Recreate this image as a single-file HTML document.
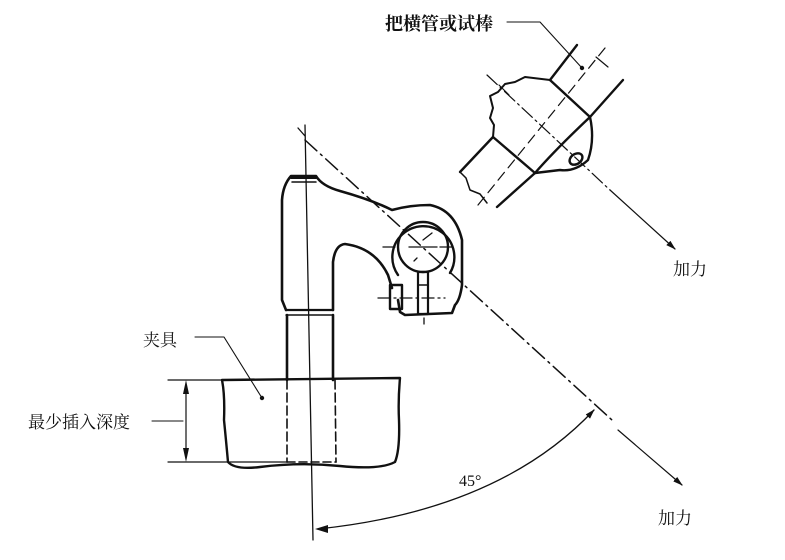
<!DOCTYPE html>
<html><head><meta charset="utf-8"><style>
html,body{margin:0;padding:0;background:#fff}
svg{display:block}
text{font-family:"Liberation Serif","Noto Serif CJK SC","Noto Sans CJK SC",serif;fill:#111}
</style></head><body>
<svg width="785" height="560" viewBox="0 0 785 560" xmlns="http://www.w3.org/2000/svg">
<defs>
<marker id="ar" markerWidth="10" markerHeight="8" refX="9" refY="4" orient="auto" markerUnits="userSpaceOnUse"><path d="M0,1 L10,4 L0,7 Z" fill="#111"/></marker>
</defs>
<g fill="none" stroke="#111" stroke-linecap="round" stroke-linejoin="round">
<!-- vertical axis -->
<line x1="305" y1="125" x2="313" y2="540" stroke-width="1.3"/>
<line x1="298" y1="128" x2="305" y2="136" stroke-width="1.3"/>
<!-- column upper head -->
<path d="M286,310 L282,300 L282,200 Q283,185 291,176 L316,176 Q322,186 340,191 Q372,200 392,210 Q410,205 430,205 Q455,210 462,240 L462,285 Q460,300 455,305 L452,313 L405,315 L400,312 L398,300" stroke-width="2.6"/>
<line x1="291" y1="178" x2="316" y2="178" stroke-width="2"/>
<line x1="292" y1="182" x2="316" y2="182" stroke-width="1.5"/>
<path d="M333,310 L333,262 Q335,245 345,244 Q375,248 388,275 L392,288" stroke-width="2.6"/>
<line x1="286" y1="310" x2="333" y2="310" stroke-width="2.2"/>
<line x1="286" y1="315" x2="333" y2="315" stroke-width="1.5"/>
<line x1="287" y1="315" x2="287" y2="380" stroke-width="2.6"/>
<line x1="333" y1="315" x2="333" y2="380" stroke-width="2.6"/>
<!-- clamp rings -->
<path d="M398,275 A31,31 0 1 1 450,273" stroke-width="2.4"/>
<circle cx="423" cy="247" r="25" stroke-width="2.4"/>
<line x1="383" y1="247" x2="395" y2="247" stroke-width="1.3"/>
<line x1="409" y1="247" x2="437" y2="247" stroke-width="1.3"/>
<line x1="440" y1="247" x2="452" y2="247" stroke-width="1.3"/>
<line x1="423" y1="240" x2="432" y2="233" stroke-width="1.3"/>
<line x1="417" y1="258" x2="414" y2="261" stroke-width="1.3"/>
<rect x="418" y="272" width="10" height="42" stroke-width="2.2"/>
<line x1="418" y1="285" x2="428" y2="285" stroke-width="1.5"/>
<rect x="390" y="285" width="12" height="24" stroke-width="2.4"/>
<line x1="378" y1="298" x2="445" y2="298" stroke-width="1.3" stroke-dasharray="12,4,2,4"/>
<line x1="424" y1="318" x2="424" y2="324" stroke-width="1.3"/>
<!-- fixture -->
<path d="M222,380 L400,378 Q398,400 399,420 Q400,450 395,462 Q380,470 340,466 Q300,462 260,467 Q235,470 228,462 Q226,440 224,420 Q225,395 222,380" stroke-width="2.4"/>
<line x1="287" y1="380" x2="287" y2="462" stroke-width="1.6" stroke-dasharray="9,4"/>
<line x1="335" y1="380" x2="336" y2="462" stroke-width="1.6" stroke-dasharray="9,4"/>
<line x1="287" y1="462" x2="336" y2="462" stroke-width="1.6" stroke-dasharray="8,4"/>
<!-- dimension -->
<line x1="168" y1="380" x2="222" y2="380" stroke-width="1.2"/>
<line x1="168" y1="462" x2="287" y2="462" stroke-width="1.2"/>
<line x1="186" y1="392" x2="186" y2="450" stroke-width="1.2"/>
<path d="M186,380 L183,394 L189,394 Z M186,462 L183,448 L189,448 Z" fill="#111" stroke="none"/>
<!-- leaders -->
<polyline points="195,337 224,337 262,398" stroke-width="1.1"/>
<circle cx="262" cy="398" r="2.2" fill="#111" stroke="none"/>
<line x1="152" y1="421" x2="183" y2="421" stroke-width="1.1"/>
<polyline points="507,22 540,22 582,68" stroke-width="1.1"/>
<circle cx="582" cy="68" r="2.2" fill="#111" stroke="none"/>
<!-- 45 deg diagonal -->
<line x1="305" y1="140" x2="612" y2="420" stroke-width="1.5" stroke-dasharray="16,5,2,5"/>
<line x1="618" y1="430" x2="682" y2="485" stroke-width="1.2" marker-end="url(#ar)"/>
<!-- arc -->
<path d="M318,529 Q500,510 594,410" stroke-width="1.3" marker-end="url(#ar)"/>
<path d="M315,529 L328,525 L328,533 Z" fill="#111" stroke="none"/>
<!-- handle / tube -->
<line x1="577" y1="45" x2="550" y2="80" stroke-width="2.4"/>
<line x1="623" y1="80" x2="590" y2="117" stroke-width="2.4"/>
<line x1="550" y1="80" x2="590" y2="117" stroke-width="2.4"/>
<path d="M550,80 L525,77 L515,82 L505,84 L498,92 L490,96 L493,108 L490,118 L494,125 L493,137" stroke-width="2"/>
<line x1="493" y1="137" x2="535" y2="173" stroke-width="2.4"/>
<line x1="493" y1="137" x2="460" y2="172" stroke-width="2.4"/>
<line x1="535" y1="173" x2="497" y2="207" stroke-width="2.4"/>
<path d="M460,172 L466,178 L470,190 L480,194 L487,203" stroke-width="1.5"/>
<path d="M590,117 Q595,140 588,160 Q575,172 560,170 L535,173 Q555,150 590,117" stroke-width="2.4"/>
<ellipse cx="576" cy="159" rx="7" ry="5" transform="rotate(-35 576 159)" stroke-width="2.4"/>
<!-- center lines -->
<line x1="605" y1="48" x2="478" y2="205" stroke-width="1.2" stroke-dasharray="10,6"/>
<line x1="487" y1="75" x2="610" y2="190" stroke-width="1.2" stroke-dasharray="14,4,2,4"/>
<line x1="610" y1="190" x2="675" y2="249" stroke-width="1.2" marker-end="url(#ar)"/>
<line x1="596" y1="57" x2="608" y2="67" stroke-width="1.2"/>
<line x1="499" y1="85" x2="509" y2="95" stroke-width="1.2"/>
</g>
<text x="385" y="30" font-size="18" font-weight="bold">把横管或试棒</text>
<text x="143" y="346" font-size="17">夹具</text>
<text x="28" y="428" font-size="17">最少插入深度</text>
<text x="673" y="275" font-size="17">加力</text>
<text x="658" y="524" font-size="17">加力</text>
<text x="459" y="486" font-size="16">45°</text>
</svg>
</body></html>
